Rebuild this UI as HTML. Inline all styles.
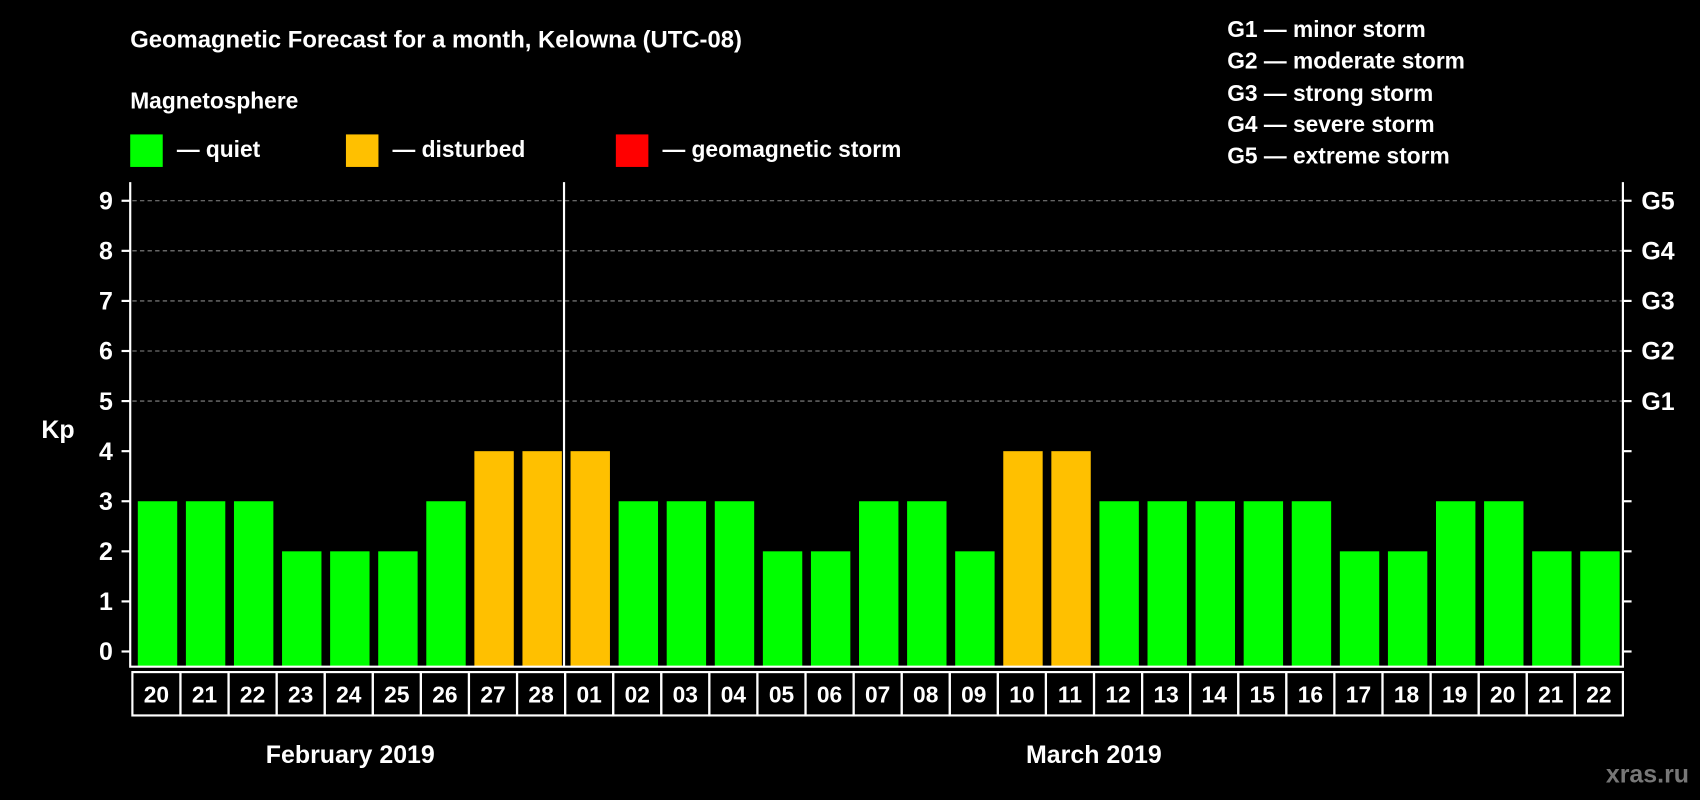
<!DOCTYPE html>
<html><head><meta charset="utf-8"><style>
html,body{margin:0;padding:0;background:#000;}
svg{display:block;font-family:"Liberation Sans",Arial,sans-serif;font-weight:bold;}
</style></head><body>
<svg id="chart" width="1700" height="800" viewBox="0 0 1568 738" xmlns="http://www.w3.org/2000/svg">
<rect width="1568" height="738" fill="#000"/>
<text x="120" y="44" fill="#fff" font-size="22">Geomagnetic Forecast for a month, Kelowna (UTC-08)</text>
<text x="120" y="100" fill="#fff" font-size="21">Magnetosphere</text>
<g><rect x="120" y="124" width="30" height="30" fill="#00ff00"/><text x="163" y="145" fill="#fff" font-size="21">— quiet</text></g>
<g><rect x="319" y="124" width="30" height="30" fill="#ffc000"/><text x="362" y="145" fill="#fff" font-size="21">— disturbed</text></g>
<g><rect x="568" y="124" width="30" height="30" fill="#ff0000"/><text x="611" y="145" fill="#fff" font-size="21">— geomagnetic storm</text></g>
<g fill="#fff" font-size="21">
<text x="1132" y="34">G1 — minor storm</text>
<text x="1132" y="63">G2 — moderate storm</text>
<text x="1132" y="93">G3 — strong storm</text>
<text x="1132" y="122">G4 — severe storm</text>
<text x="1132" y="151">G5 — extreme storm</text>
</g>
<text x="38" y="404" fill="#fff" font-size="23">Kp</text>
<g id="plot"></g>
<text x="323" y="704" fill="#fff" font-size="23" text-anchor="middle">February 2019</text>
<text x="1009" y="704" fill="#fff" font-size="23" text-anchor="middle">March 2019</text>
<text x="1558" y="722" fill="#777" font-size="23" text-anchor="end">xras.ru</text>
</svg>
<script>
const days = ["20","21","22","23","24","25","26","27","28","01","02","03","04","05","06","07","08","09","10","11","12","13","14","15","16","17","18","19","20","21","22"];
const kp = [3,3,3,2,2,2,3,4,4,4,3,3,3,2,2,3,3,2,4,4,3,3,3,3,3,2,2,3,3,2,2];
const yTicks = [0,1,2,3,4,5,6,7,8,9];
const gLabels = ["G1","G2","G3","G4","G5"];
const NS="http://www.w3.org/2000/svg";
const X0=122,X1=1497,TOP=168,BOT=615;
const sw=(X1-X0)/days.length;
const y=v=>601-v*46.2;
const x=i=>X0+i*sw;
const g=document.getElementById('plot');
function mk(t,a){const e=document.createElementNS(NS,t);for(const k in a)e.setAttribute(k,a[k]);g.appendChild(e);return e;}
// grid
yTicks.forEach(v=>{
 if(v>=5){const l=mk('line',{x1:X0,x2:X1,y1:y(v),y2:y(v),stroke:'#888','stroke-dasharray':'4,3','stroke-width':1});
 
 }
 const t=mk('line',{x1:112,x2:120,y1:y(v),y2:y(v),stroke:'#fff','stroke-width':2});
 
 
 const t2=mk('line',{x1:X1,x2:X1+8,y1:y(v),y2:y(v),stroke:'#fff','stroke-width':2});
 
 
 const lb=mk('text',{x:104,y:y(v)+8,fill:'#fff','font-size':23,'text-anchor':'end'});
 lb.textContent=v;
 
 
});
gLabels.forEach((s,i)=>{
 const lb=mk('text',{x:1514,y:y(5+i)+8,fill:'#fff','font-size':23});
 lb.textContent=s;
 
 
});
kp.forEach((v,i)=>{
 const r=mk('rect',{x:x(i)+5,y:y(v),width:sw-8,height:y(0)-y(v)+14,fill:v>=5?'#ff0000':(v>=4?'#ffc000':'#00ff00')});
 
 
 const c=mk('rect',{x:x(i),y:620,width:sw,height:40,fill:'none',stroke:'#fff','stroke-width':2});
 
 
 const t=mk('text',{x:x(i)+sw/2,y:648,fill:'#fff','font-size':21,'text-anchor':'middle'});
 t.textContent=days[i];
 
 
});
const ax=mk('path',{d:`M120 ${TOP} V${BOT} H${X1} V${TOP}`,fill:'none',stroke:'#fff','stroke-width':2});


const sep=mk('line',{x1:x(9)-1,x2:x(9)-1,y1:TOP,y2:BOT,stroke:'#fff','stroke-width':2});


</script>
</body></html>
